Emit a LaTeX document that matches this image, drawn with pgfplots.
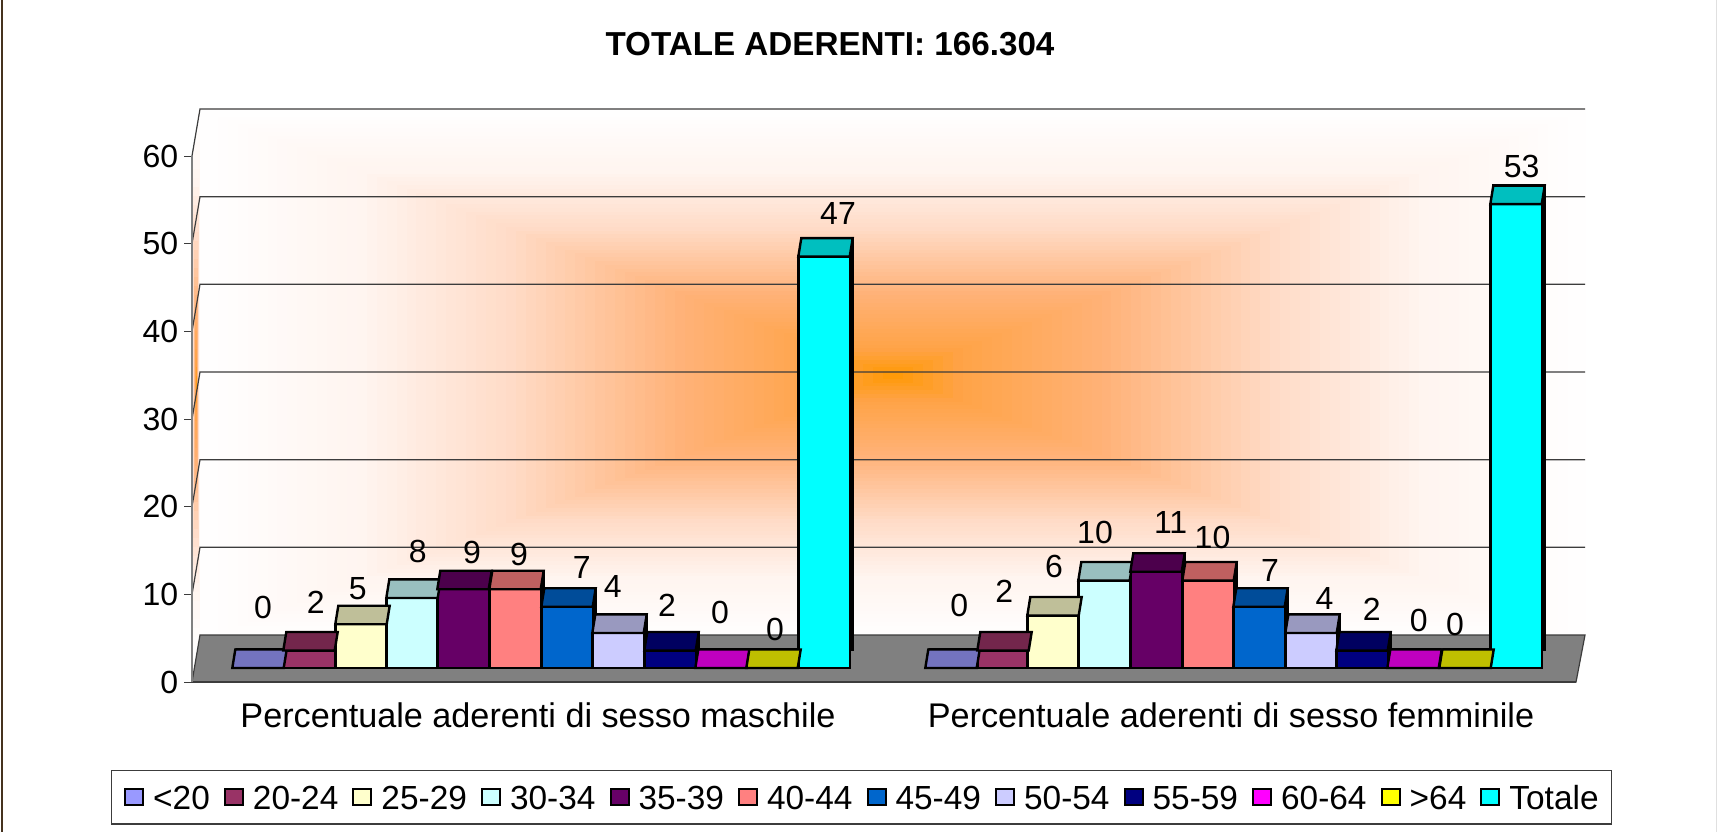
\documentclass[border=0pt]{standalone}
\usepackage{fontspec}
\setmainfont{Liberation Sans}
\usepackage{pgfplots}
\pgfplotsset{compat=1.18}

% wall shading: orange centre to white, colour set from t in [0,1]
\newcommand{\wallcolor}[1]{%
  \pgfmathsetmacro{\wt}{#1}%
  \pgfmathtruncatemacro{\wg}{\wt<.1 ? 153+100*\wt : (\wt<.31 ? 163+71.4*(\wt-.1) : (\wt<.56 ? 178+168*(\wt-.31) : (\wt<.77 ? 220+119*(\wt-.56) : 245+43*(\wt-.77))))}%
  \pgfmathtruncatemacro{\wb}{\wt<.1 ? 700*\wt : (\wt<.31 ? 70+238*(\wt-.1) : (\wt<.56 ? 120+320*(\wt-.31) : (\wt<.77 ? 200+190*(\wt-.56) : 240+65*(\wt-.77))))}%
  \definecolor{wallc}{RGB}{255,\wg,\wb}%
}

% top face of a bar, in pt (1 px of the reference = 0.5 pt)
\pgfdeclareplotmark{topface}{%
  \pgfpathmoveto{\pgfpoint{-12.85pt}{0pt}}%
  \pgfpathlineto{\pgfpoint{12.85pt}{0pt}}%
  \pgfpathlineto{\pgfpoint{14.35pt}{9.25pt}}%
  \pgfpathlineto{\pgfpoint{-11.35pt}{9.25pt}}%
  \pgfpathclose
  \pgfusepathqfillstroke
}

\newcommand{\barseries}[3]{%
  \addplot[ybar,bar width=25.7pt,bar shift=0pt,fill=black,draw=black,line width=1.2pt,
    xshift=1.5pt,yshift=9.25pt,forget plot] coordinates {#3};
  \addplot[ybar,bar width=25.7pt,bar shift=0pt,fill=#1,draw=black,line width=1.2pt] coordinates {#3};
  \addlegendentry{#2}
  \addplot[only marks,mark=topface,mark options={fill=#1!75!black,draw=black,line width=1.2pt},
    forget plot] coordinates {#3};
}

\definecolor{c1}{RGB}{153,153,255}
\definecolor{c2}{RGB}{153,51,102}
\definecolor{c3}{RGB}{255,255,204}
\definecolor{c4}{RGB}{204,255,255}
\definecolor{c5}{RGB}{102,0,102}
\definecolor{c6}{RGB}{255,128,128}
\definecolor{c7}{RGB}{0,102,204}
\definecolor{c8}{RGB}{204,204,255}
\definecolor{c9}{RGB}{0,0,128}
\definecolor{c10}{RGB}{255,0,255}
\definecolor{c11}{RGB}{255,255,0}
\definecolor{c12}{RGB}{0,255,255}
\definecolor{gridc}{RGB}{60,60,60}

\begin{document}
\begin{tikzpicture}[font=\fontsize{16pt}{18pt}\selectfont]
\begin{scope}[x=0.5pt,y=-0.5pt]
\path[use as bounding box,fill=white] (0,0) rectangle (1717,832);
\draw[line width=1pt,color={rgb,255:red,70;green,50;blue,30}] (1.5,0) -- (1.5,832);
\draw[line width=.5pt,color=black!12] (1716.5,0) -- (1716.5,832);

% back wall
\begin{scope}
  \clip (200,109) rectangle (1585,635);
  \foreach \i in {70,69,...,0}{
    \wallcolor{\i/70}
    \pgfmathsetmacro{\hw}{\i/70*695}
    \pgfmathsetmacro{\hh}{\i/70*266}
    \fill[wallc] (893-\hw,375-\hh) rectangle (893+\hw,375+\hh);
  }
\end{scope}
% side wall
\begin{scope}
  \clip (192,156) -- (200,109) -- (200,635) -- (192,682) -- cycle;
  \foreach \i in {30,29,...,0}{
    \wallcolor{\i/30}
    \pgfmathsetmacro{\hw}{\i/30*4.5}
    \pgfmathsetmacro{\hh}{\i/30*270}
    \fill[wallc] (196-\hw,385-\hh) rectangle (196+\hw,385+\hh);
  }
\end{scope}
% grid lines on the walls
\foreach \k in {1,...,6}{
  \pgfmathsetmacro{\yb}{635-87.67*\k}
  \pgfmathsetmacro{\yf}{682-87.67*\k}
  \draw[gridc,line width=.6pt] (192,\yf) -- (200,\yb) -- (1585,\yb);
}
% floor
\filldraw[fill={rgb,255:red,128;green,128;blue,128},draw=gridc,line width=.6pt]
  (192,682) -- (200,635) -- (1585,635) -- (1576,682) -- cycle;
\end{scope}

% axis with the scale
\begin{axis}[
  at={(96pt,-341pt)},anchor=south west,
  scale only axis,width=692pt,height=263pt,
  xmin=192,xmax=1576,ymin=0,ymax=60,
  clip=false,
  axis x line=bottom,axis y line=left,
  axis line style={-,color=black!50,line width=.7pt},
  x axis line style={color=gridc},
  tick align=outside,major tick length=4pt,
  tick style={color=gridc,line width=.5pt},
  ytick={0,10,...,60},
  xtick={538,1231},
  xticklabels={Percentuale aderenti di sesso maschile,Percentuale aderenti di sesso femminile},
  x tick style={draw=none},
  extra x ticks={192,886,1576},
  extra x tick labels={},
  extra x tick style={tick style={color=gridc,line width=.5pt,draw=gridc}},
  tick label style={font=\fontsize{16pt}{18pt}\selectfont,inner sep=0pt},
  /pgf/number format/assume math mode=true,
  xticklabel style={yshift=-6pt,font=\fontsize{17.1pt}{18pt}\selectfont},
  yticklabel style={xshift=-2.7pt},
]
\addplot[draw=none,forget plot] coordinates {(192,0)};
\end{axis}

% axis with the bars: same frame, y = 0 lies on the raised base of the bars
\begin{axis}[
  at={(96pt,-341pt)},anchor=south west,
  scale only axis,width=692pt,height=263pt,
  xmin=192,xmax=1576,ymin=-1.6,ymax=58.5,
  clip=false,hide axis,
  legend columns=12,
  legend style={at={(-0.0588,-0.271)},anchor=south west,draw=gridc,line width=.6pt,
    font=\fontsize{16.7pt}{18pt}\selectfont,inner xsep=6.5pt,inner ysep=7.45pt,
    /tikz/every odd column/.style={column sep=4.5pt},
    /tikz/every even column/.style={column sep=7.05pt},
    nodes={inner sep=0pt,text height=12pt,text depth=0pt,anchor=west}},
  legend image code/.code={
    \draw[#1,line width=1pt,draw=black] (0pt,-4pt) rectangle (9pt,4pt);
  },
]
\barseries{c1}{<20}{(258,0) (951,0)}
\barseries{c2}{20-24}{(309,2) (1003,2)}
\barseries{c3}{25-29}{(361,5) (1053,6)}
\barseries{c4}{30-34}{(412,8) (1104,10)}
\barseries{c5}{35-39}{(463,9) (1156,11)}
\barseries{c6}{40-44}{(515,9) (1208,10)}
\barseries{c7}{45-49}{(567,7) (1259,7)}
\barseries{c8}{50-54}{(618,4) (1311,4)}
\barseries{c9}{55-59}{(670,2) (1362,2)}
\barseries{c10}{60-64}{(721,0) (1413,0)}
\barseries{c11}{>64}{(772,0) (1465,0)}
\barseries{c12}{Totale}{(824,47) (1516,53)}
\end{axis}

\begin{scope}[x=0.5pt,y=-0.5pt]
% data labels, where the reference has them
\foreach \x/\y/\t in {263/607.7/0,315.7/602.7/2,357.7/589/5,417.7/551.7/8,472/552/9,519/554/9,
    581.7/567.7/7,612.7/586.7/4,667/605.7/2,720/612/0,775/629/0,838/213/47,
    959.3/605.7/0,1004.3/591.7/2,1054/566/6,1095/532.7/10,1170.6/522/11,1212.5/537.8/10,
    1270/570.7/7,1324.5/598/4,1371.8/609.7/2,1418.7/620/0,1455/624.5/0,1521.7/166.7/53}
  \node[inner sep=0pt] at (\x,\y) {\t};

\node[font=\fontsize{16.6pt}{18pt}\selectfont\bfseries] at (830,44) {TOTALE ADERENTI: 166.304};
\end{scope}
\end{tikzpicture}
\end{document}
